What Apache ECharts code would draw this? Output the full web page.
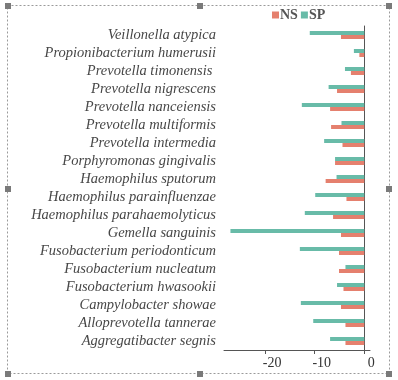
<!DOCTYPE html>
<html>
<head>
<meta charset="utf-8">
<script src="https://cdn.jsdelivr.net/npm/echarts@6/dist/echarts.min.js"></script>
<style>
html,body{margin:0;padding:0;background:#fff;}
#main{width:398px;height:380px;}
</style>
</head>
<body>
<div id="main"></div>
<script>
// Data (top to bottom)
const categories = [
  'Veillonella atypica',
  'Propionibacterium humerusii',
  'Prevotella timonensis ',
  'Prevotella nigrescens',
  'Prevotella nanceiensis',
  'Prevotella multiformis',
  'Prevotella intermedia',
  'Porphyromonas gingivalis',
  'Haemophilus sputorum',
  'Haemophilus parainfluenzae',
  'Haemophilus parahaemolyticus',
  'Gemella sanguinis',
  'Fusobacterium periodonticum',
  'Fusobacterium nucleatum',
  'Fusobacterium hwasookii',
  'Campylobacter showae',
  'Alloprevotella tannerae',
  'Aggregatibacter segnis'
];
const spValues = [-11.0, -2.1, -3.9, -7.2, -12.6, -4.6, -8.1, -5.9, -5.6, -9.9, -12.0, -27.0, -13.0, -3.8, -5.5, -12.8, -10.3, -6.9];
const nsValues = [-4.7, -1.0, -2.7, -5.5, -6.9, -6.7, -4.4, -5.9, -7.8, -3.6, -6.3, -4.7, -5.1, -5.1, -4.2, -4.7, -3.8, -3.8];
const xTickValues = [-20, -10, 0];

const chart = echarts.init(document.getElementById('main'), null, {renderer: 'canvas'});
const serif = 'Liberation Serif, Times New Roman, serif';
const axisColor = '#555';

function handle(cx, cy) {
  return {type: 'rect', shape: {x: cx - 3, y: cy - 3, width: 6, height: 6}, style: {fill: '#7a7a7a'}, silent: true};
}

chart.setOption({
  animation: false,
  backgroundColor: '#fff',
  legend: {
    data: ['NS', 'SP'],
    top: 3,
    left: 267,
    itemWidth: 7,
    itemHeight: 7,
    itemGap: 3,
    icon: 'rect',
    textStyle: {fontFamily: serif, fontWeight: 'bold', fontSize: 14, color: '#555', padding: [0, 0, 0, -4]}
  },
  grid: {left: 224, right: 28, top: 26, bottom: 30, containLabel: false},
  xAxis: {
    type: 'value',
    min: -28.3,
    max: 1.15,
    splitLine: {show: false},
    axisLine: {show: true, lineStyle: {color: axisColor, width: 1}},
    axisTick: {show: true, length: 4, customValues: xTickValues, lineStyle: {color: axisColor}},
    axisLabel: {customValues: xTickValues, fontFamily: serif, fontSize: 14, color: '#333', margin: 6, padding: [0, 0, 0, 14]}
  },
  yAxis: {
    type: 'category',
    inverse: true,
    data: categories,
    axisLine: {show: true, lineStyle: {color: axisColor, width: 1}},
    axisTick: {show: true, alignWithLabel: true, length: 3, interval: 0, lineStyle: {color: axisColor}},
    axisLabel: {interval: 0, fontFamily: serif, fontStyle: 'italic', fontSize: 14.5, color: '#474747', margin: 8}
  },
  series: [
    {name: 'SP', type: 'bar', data: spValues, barWidth: 4, barGap: '0%', itemStyle: {color: '#68bba8'}},
    {name: 'NS', type: 'bar', data: nsValues, barWidth: 4, barGap: '0%', itemStyle: {color: '#e5806e'}}
  ],
  graphic: [
    {type: 'rect', shape: {x: 7.5, y: 5.5, width: 382, height: 368}, style: {fill: null, stroke: '#9a9a9a', lineWidth: 1, lineDash: [2, 2]}, silent: true},
    handle(8, 6), handle(200, 6), handle(389, 6),
    handle(8, 189), handle(389, 189),
    handle(8, 374), handle(200, 374), handle(389, 374)
  ]
});
</script>
</body>
</html>
